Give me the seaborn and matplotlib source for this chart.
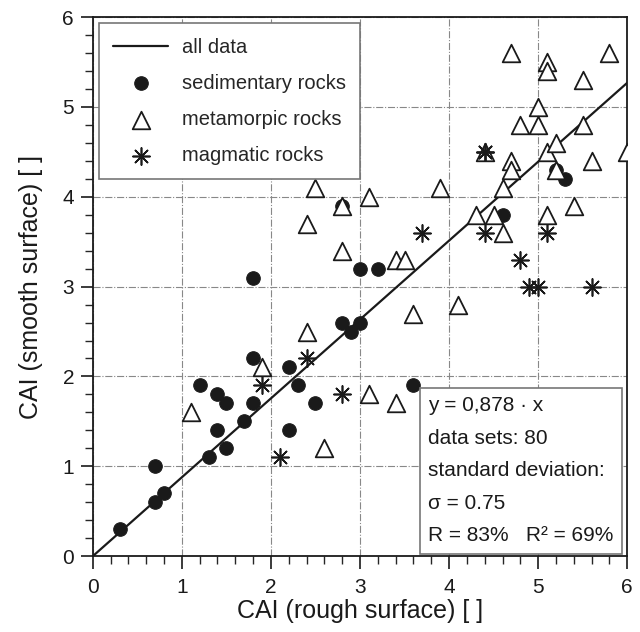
import numpy as np
import pandas as pd
import matplotlib
matplotlib.use("Agg")
import matplotlib.pyplot as plt
from matplotlib.ticker import MultipleLocator
import seaborn as sns

# valores
sed_x = [0.3, 0.7, 0.7, 0.8, 1.2, 1.3, 1.4, 1.4, 1.5, 1.5, 1.7, 1.8, 1.8, 1.8,
         2.2, 2.2, 2.3, 2.5, 2.8, 2.9, 3.0, 2.8, 3.0, 3.2, 3.6, 4.6, 5.2, 5.3]
sed_y = [0.3, 0.6, 1.0, 0.7, 1.9, 1.1, 1.8, 1.4, 1.7, 1.2, 1.5, 1.7, 2.2, 3.1,
         2.1, 1.4, 1.9, 1.7, 2.6, 2.5, 2.6, 3.9, 3.2, 3.2, 1.9, 3.8, 4.3, 4.2]

met_x = [1.1, 1.9, 2.4, 2.4, 2.5, 2.8, 2.8, 3.1, 2.6, 3.1, 3.4, 3.4, 3.5, 3.6,
         4.1, 3.9, 4.3, 4.5, 4.6, 4.4, 4.7, 4.7, 4.6, 4.7, 5.1, 5.1, 5.8, 5.5,
         5.0, 4.8, 5.0, 5.5, 5.1, 5.2, 6.0, 5.6, 5.2, 5.1, 5.4]
met_y = [1.6, 2.1, 2.5, 3.7, 4.1, 3.9, 3.4, 4.0, 1.2, 1.8, 1.7, 3.3, 3.3, 2.7,
         2.8, 4.1, 3.8, 3.8, 3.6, 4.5, 4.4, 4.3, 4.1, 5.6, 5.5, 5.4, 5.6, 5.3,
         5.0, 4.8, 4.8, 4.8, 4.5, 4.6, 4.5, 4.4, 4.3, 3.8, 3.9]

mag_x = [1.9, 2.1, 2.8, 2.4, 3.7, 4.4, 4.8, 4.9, 5.0, 5.1, 5.6, 4.4, 4.4]
mag_y = [1.9, 1.1, 1.8, 2.2, 3.6, 3.6, 3.3, 3.0, 3.0, 3.6, 3.0, 4.5, 4.5]

slope = 0.878
fit_x = [0, 6]
fit_y = [slope * v for v in fit_x]

sns.set_style("ticks")
plt.rcParams['font.family'] = ['Liberation Sans', 'DejaVu Sans']

fig = plt.figure(figsize=(6.4, 6.32), dpi=100)
ax = fig.add_axes([0.145, 0.12, 0.835, 0.853])

sns.lineplot(x=fit_x, y=fit_y, color='#1a1a1a', lw=1.6, ax=ax, label='all data')
sns.scatterplot(x=sed_x, y=sed_y, marker='o', s=95, color='#1a1a1a',
                edgecolor='#1a1a1a', ax=ax, label='sedimentary rocks', zorder=3)
sns.scatterplot(x=met_x, y=met_y, marker='^', s=160, facecolor='white',
                edgecolor='#1a1a1a', linewidth=1.3, ax=ax, label='metamorpic rocks', zorder=3)
sns.scatterplot(x=mag_x, y=mag_y, marker=(8, 2, 0), s=150, color='#1a1a1a',
                linewidth=1.2, ax=ax, label='magmatic rocks', zorder=3)

ax.set_xlim(0, 6)
ax.set_ylim(0, 6)
ax.xaxis.set_major_locator(MultipleLocator(1))
ax.yaxis.set_major_locator(MultipleLocator(1))
ax.xaxis.set_minor_locator(MultipleLocator(0.2))
ax.yaxis.set_minor_locator(MultipleLocator(0.2))
ax.tick_params(which='major', direction='out', length=9, width=1.2, labelsize=15,
               colors='#1a1a1a')
ax.tick_params(which='minor', direction='out', length=5.5, width=1.0)
ax.tick_params(axis='x', which='major', pad=7)
ax.tick_params(axis='y', which='major', pad=4.5)
ax.grid(True, which='major', color='#888888', linestyle='-.', linewidth=0.8)
for sp in ax.spines.values():
    sp.set_visible(True)
    sp.set_linewidth(1.3)
    sp.set_color('#1a1a1a')

ax.set_xlabel('CAI (rough surface) [ ]', fontsize=18, color='#1a1a1a', labelpad=1)
ax.set_ylabel('CAI (smooth surface) [ ]', fontsize=18, color='#1a1a1a', labelpad=14)

leg = ax.legend(loc='upper left', fontsize=14.5, frameon=True, fancybox=False,
                edgecolor='#777777', framealpha=1, borderpad=0.72, labelspacing=0.85,
                handlelength=2.7, handletextpad=0.7, borderaxespad=0.3)
leg.get_frame().set_linewidth(1.2)

stats = ("y = 0,878 · x\n"
         "data sets: 80\n"
         "standard deviation:\n"
         "σ = 0.75\n"
         "R = 83%   R² = 69%")
ax.text(0.975, 0.02, stats, transform=ax.transAxes, ha='right', va='bottom',
        multialignment='left', fontsize=15, linespacing=1.9, color='#1a1a1a',
        bbox=dict(boxstyle='square,pad=0.4', facecolor='white', edgecolor='#777777', linewidth=1.2),
        zorder=5)

fig.savefig('out.png', dpi=100)
